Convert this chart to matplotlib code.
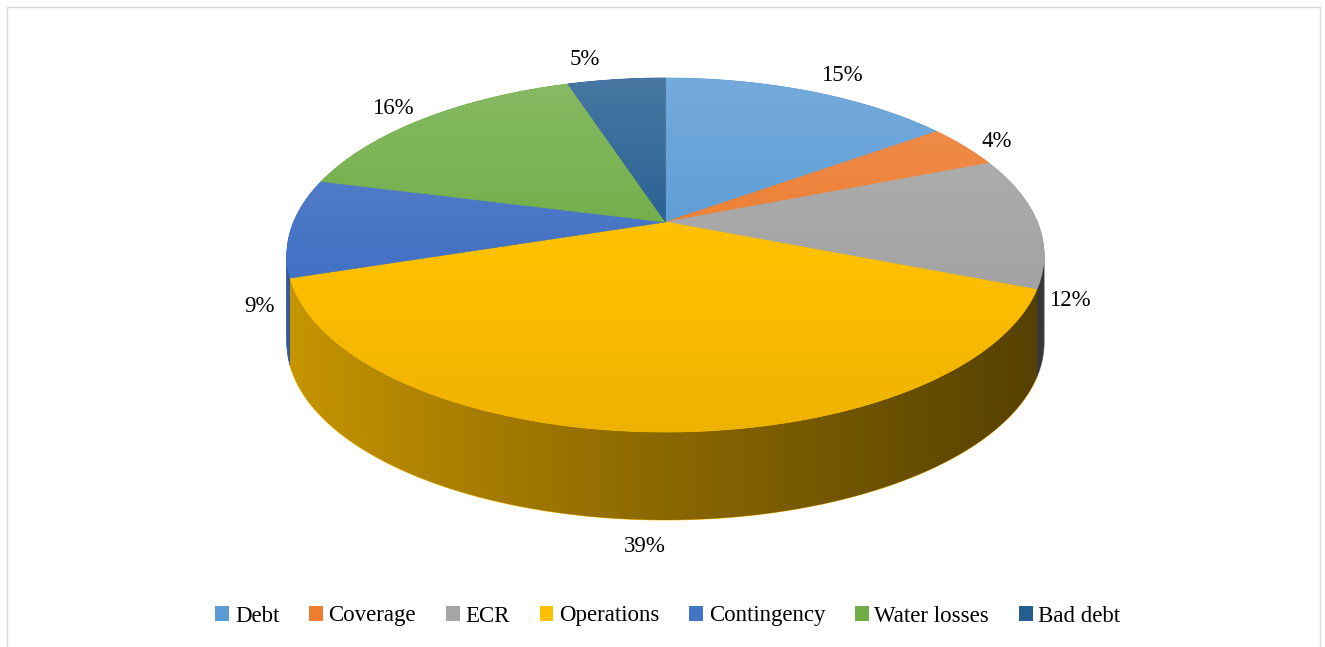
import numpy as np
import matplotlib
matplotlib.use("Agg")
import matplotlib.pyplot as plt
from matplotlib.patches import Patch, PathPatch, Rectangle
from matplotlib.path import Path
from matplotlib.transforms import Transform

categories = ["Debt", "Coverage", "ECR", "Operations", "Contingency", "Water losses", "Bad debt"]
values = [15, 4, 12, 39, 9, 16, 5]
labels = ["15%", "4%", "12%", "39%", "9%", "16%", "5%"]
colors = ["#5B9BD5", "#ED7D31", "#A5A5A5", "#FFC000", "#4472C4", "#70AD47", "#255E91"]

plt.rcParams['font.family'] = ['Liberation Serif', 'DejaVu Serif']


class Perspective(Transform):
    """Projective tilt of the unit disc: keeps the rim on the unit circle,
    moves the centre up to (0, c), then shifts everything down by dy."""
    input_dims = 2
    output_dims = 2
    is_separable = False
    has_inverse = False

    def __init__(self, c, dy=0.0):
        super().__init__()
        self.c = c
        self.dy = dy

    def transform_non_affine(self, xy):
        xy = np.asarray(xy, dtype=float).reshape(-1, 2)
        u, v = xy[:, 0], xy[:, 1]
        den = self.c * v + 1.0
        return np.column_stack([np.sqrt(1 - self.c ** 2) * u / den,
                                (v + self.c) / den - self.dy])

    def transform_path_non_affine(self, path):
        verts, codes = [], []
        for seg, code in path.iter_bezier():
            if code == Path.MOVETO:
                verts.append(seg.control_points[:1])
                codes.append(Path.MOVETO)
                continue
            n = 2 if seg.degree == 1 else 40
            pts = seg(np.linspace(0, 1, n)[1:])
            for p in pts:
                verts.append(p[None, :])
                codes.append(Path.LINETO)
            if code == Path.CLOSEPOLY:
                verts.append(verts[-1])
                codes.append(Path.CLOSEPOLY)
        v = self.transform_non_affine(np.vstack(verts))
        return Path(v, np.array(codes, dtype=Path.code_type))


W, H = 1325, 647
fig = plt.figure(figsize=(W / 100, H / 100), dpi=100)
ax = fig.add_axes([0, 0, 1, 1])

# pixel geometry of the ellipse (top face)
cx, cy, rx, ry = 665.5, 255.0, 378.5, 177.0
apex_py = 222.0
c_tilt = (cy - apex_py) / ry
depth_px = 88.0
d = depth_px / ry

# side: stacked copies of the pie shifted downward
for t in np.linspace(d, 0.002, 70):
    ws, _ = ax.pie(values, colors=colors, startangle=90, counterclock=False,
                   center=(0, 0), radius=1.0, normalize=True,
                   wedgeprops=dict(linewidth=0.6))
    tr = Perspective(c_tilt, t) + ax.transData
    for w, col in zip(ws, colors):
        w.set_transform(tr)
        w.set_edgecolor(col)
        w.set_zorder(1)

# gradient shading over the side band (light at left, dark at right)
th = np.linspace(np.pi, 2 * np.pi, 300)
top_edge = np.column_stack([np.cos(th), np.sin(th)])
bot_edge = np.column_stack([np.cos(th[::-1]), np.sin(th[::-1]) - d])
band = np.vstack([top_edge, bot_edge, top_edge[:1]])
band_patch = PathPatch(Path(band), transform=ax.transData, facecolor='none', edgecolor='none')
ax.add_patch(band_patch)
gx = np.linspace(0, 1, 400)
alpha = 0.22 + 0.45 * gx ** 0.9
grad = np.zeros((2, 400, 4))
grad[..., 3] = alpha
im = ax.imshow(grad, extent=(-1.01, 1.01, -1 - d - 0.02, 0.02), origin='lower',
               aspect='auto', zorder=2, interpolation='bilinear')
im.set_clip_path(band_patch)

# top face
wedges, _ = ax.pie(values, colors=colors, startangle=90, counterclock=False,
                   center=(0, 0), radius=1.0, normalize=True,
                   wedgeprops=dict(linewidth=0.5))
tr_top = Perspective(c_tilt, 0.0) + ax.transData
for w, col in zip(wedges, colors):
    w.set_transform(tr_top)
    w.set_edgecolor(col)
    w.set_zorder(3)

# subtle vertical gradient on top face
tt = np.linspace(0, 2 * np.pi, 400)
circ = np.column_stack([np.cos(tt), np.sin(tt)])
top_patch = PathPatch(Path(circ), transform=ax.transData, facecolor='none', edgecolor='none')
ax.add_patch(top_patch)
gy = np.linspace(0, 1, 300)  # bottom -> top
tg = np.zeros((300, 2, 4))
tg[..., 0:3] = np.where(gy[:, None, None] > 0.5, 1.0, 0.0)
tg[..., 3] = np.where(gy[:, None] > 0.5, 0.16 * (gy[:, None] - 0.5) / 0.5,
                      0.07 * (0.5 - gy[:, None]) / 0.5)
im2 = ax.imshow(tg, extent=(-1, 1, -1, 1), origin='lower', aspect='auto', zorder=4,
                interpolation='bilinear')
im2.set_clip_path(top_patch)

# percentage labels: anchored on the rim at each wedge's mid-angle,
# pushed outward (and below the side wall for front-facing slices)
persp = Perspective(c_tilt, 0.0)
px2pt = 72.0 / fig.dpi
for w, lab in zip(wedges, labels):
    ang = np.deg2rad((w.theta1 + w.theta2) / 2)
    s, co = np.sin(ang), np.cos(ang)
    x, y = persp.transform_non_affine([[co, s]])[0]
    wside = np.clip((0.35 - s) / 0.35, 0, 1)
    dx_px = 32 * np.clip(co / 0.15, -1, 1)
    dy_px = (depth_px * wside - 20 * max(s, 0) ** 2 + 27 * max(-s, 0)
             - 10 * (1 - abs(s)) * wside)
    ax.annotate(lab, (x, y), xytext=(dx_px * px2pt, -dy_px * px2pt),
                textcoords='offset points', ha='center', va='center',
                fontsize=16.5, color='#000000', zorder=6)

ax.set_aspect('auto')
ax.set_xlim(-cx / rx, (W - cx) / rx)
ax.set_ylim((cy - H) / ry, cy / ry)
ax.axis('off')

# legend
handles = [Patch(facecolor=col, edgecolor='none') for col in colors]
fig.legend(handles, categories, loc='center', bbox_to_anchor=(668 / W, 1 - 616 / H),
           ncol=7, frameon=False, fontsize=16.5, handlelength=0.6, handleheight=0.6,
           handletextpad=0.25, columnspacing=1.3, borderaxespad=0)

# chart border
fig.patches.append(Rectangle((7 / W, -0.01), (1320 - 7) / W, 1.01 - 7 / H,
                             transform=fig.transFigure, fill=False,
                             edgecolor='#D9D9D9', linewidth=1.0))

fig.savefig("out.png", dpi=100, facecolor='white')
